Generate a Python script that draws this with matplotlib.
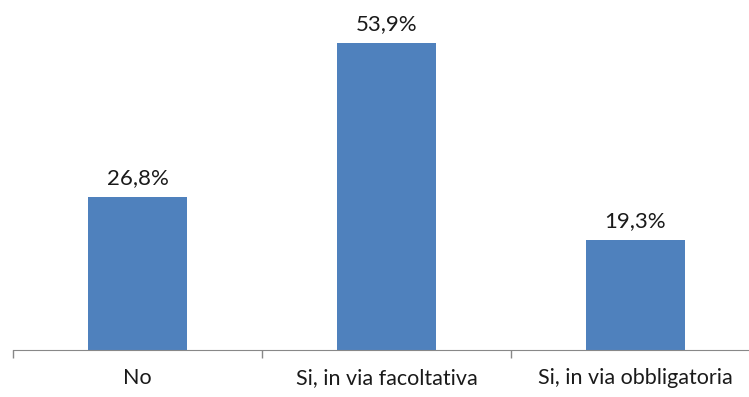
import matplotlib.pyplot as plt

categorie = ['No', 'Si, in via facoltativa', 'Si, in via obbligatoria']
percentuali = [26.8, 53.9, 19.3]
etichette = ['26,8%', '53,9%', '19,3%']

plt.rcParams['font.family'] = ['Lato', 'DejaVu Sans']

fig = plt.figure(figsize=(7.49, 3.97), dpi=100)
ax = fig.add_axes([13 / 749, 47 / 397, 747 / 749, 350 / 397])

x = range(len(categorie))
barre = ax.bar(x, percentuali, width=0.4, color='#4F81BD')
for b, testo in zip(barre, etichette):
    ax.text(b.get_x() + b.get_width() / 2, b.get_height() + 2.3, testo,
            ha='center', va='baseline', fontsize=16, color='#1a1a1a')

ax.set_xlim(-0.5, 2.5)
ax.set_ylim(0, 61.45)
ax.set_xticks([-0.5, 0.5, 1.5, 2.5], minor=False)
ax.set_xticklabels([])
ax.set_xticks(list(x), minor=True)
ax.set_xticklabels(categorie, minor=True, fontsize=15.5, color='#1a1a1a')
ax.tick_params(axis='x', which='major', length=6, color='#888888', width=1)
ax.tick_params(axis='x', which='minor', length=0, pad=13)
ax.set_yticks([])
for lato in ['top', 'right', 'left']:
    ax.spines[lato].set_visible(False)
ax.spines['bottom'].set_color('#888888')

fig.savefig('out.png', dpi=100)
